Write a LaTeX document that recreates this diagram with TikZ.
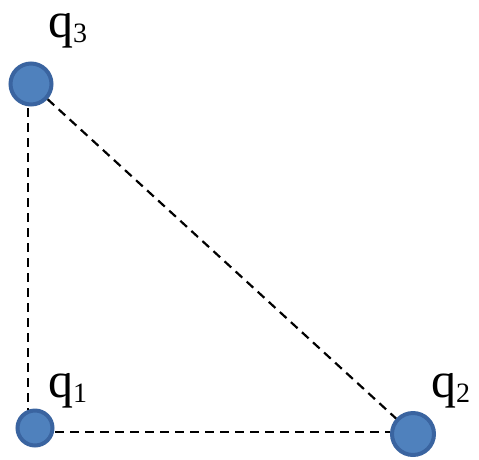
\documentclass[tikz,border=0pt]{standalone}
\usepackage{fontspec}
\setmainfont{Liberation Serif}
\definecolor{chargefill}{HTML}{4F81BD}
\definecolor{chargeline}{HTML}{3A64A0}
\begin{document}
\begin{tikzpicture}[x=1pt,y=-1pt,
  charge/.style={circle,fill=chargefill,draw=chargeline,line width=4pt,inner sep=0pt},
  conn/.style={draw=black,line width=2.2pt,dash pattern=on 9pt off 6pt},
  lbl/.style={anchor=base west,inner sep=0pt,font=\fontsize{50}{54}\selectfont}]
\useasboundingbox (0,0) rectangle (479,459);
\node[charge,minimum size=41pt] (q3) at (31,84) {};
\node[charge,minimum size=35pt] (q1) at (35,428) {};
\node[charge,minimum size=42pt] (q2) at (413,434) {};
\coordinate (v3) at (28,108);
\coordinate (v1) at (28,410);
\coordinate (h1) at (55,432);
\coordinate (h2) at (390,432);
\draw[conn] (v3) -- (v1);
\draw[conn] (h1) -- (h2);
\draw[conn] (q3) -- (q2);
\node[lbl] (l3) at (48,37) {q\raisebox{-5pt}{\fontsize{28}{30}\selectfont 3}};
\node[lbl] (l1) at (48,397) {q\raisebox{-5pt}{\fontsize{28}{30}\selectfont 1}};
\node[lbl] (l2) at (431,397) {q\raisebox{-5pt}{\fontsize{28}{30}\selectfont 2}};
\end{tikzpicture}
\end{document}
